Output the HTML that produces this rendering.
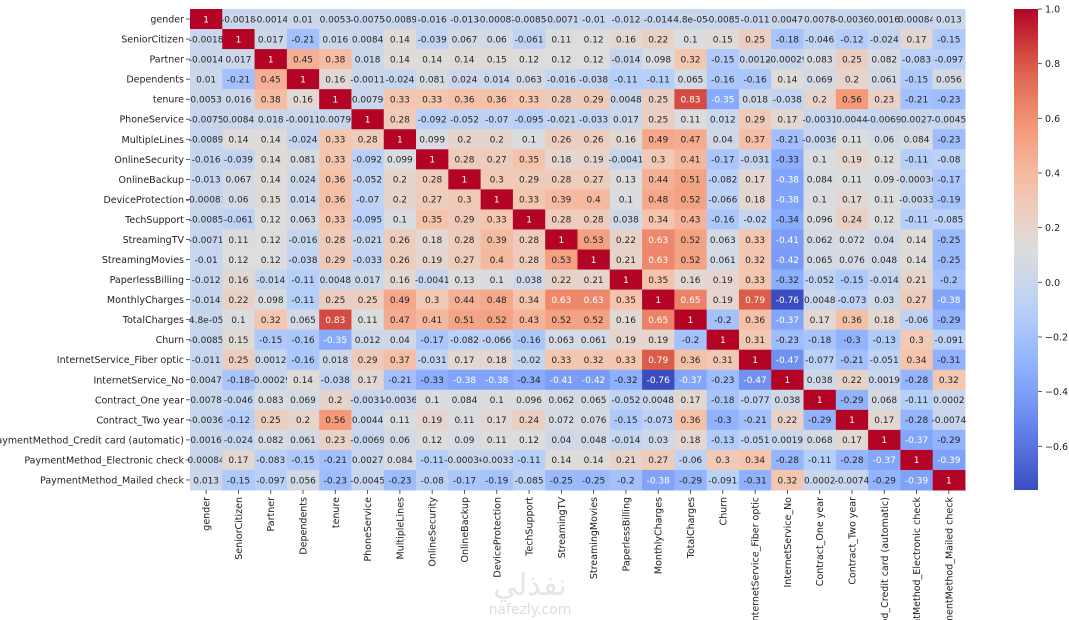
<!DOCTYPE html>
<html><head><meta charset="utf-8"><style>
body{margin:0;background:#fff;width:1069px;height:620px;overflow:hidden}
svg{display:block;font-family:"DejaVu Sans","Liberation Sans",sans-serif}
</style></head><body>
<svg id="c" width="1069" height="620" viewBox="0 0 1069 620" overflow="hidden">
<defs><clipPath id="frame"><rect x="0" y="0" width="1069" height="620"/></clipPath></defs>
<text x="530" y="595" text-anchor="middle" font-size="30" fill="#e6e6e6">نفذلي</text>
<text x="530" y="614" text-anchor="middle" font-size="14" fill="#dcdcdc">nafezly.com</text>
</svg>
<script>
const labels=["gender","SeniorCitizen","Partner","Dependents","tenure","PhoneService","MultipleLines","OnlineSecurity","OnlineBackup","DeviceProtection","TechSupport","StreamingTV","StreamingMovies","PaperlessBilling","MonthlyCharges","TotalCharges","Churn","InternetService_Fiber optic","InternetService_No","Contract_One year","Contract_Two year","PaymentMethod_Credit card (automatic)","PaymentMethod_Electronic check","PaymentMethod_Mailed check"];
const r0=[1,-0.0018,-0.0014,0.01,0.0053,-0.0075,-0.0089,-0.016,-0.013,-0.00081,-0.0085,-0.0071,-0.01,-0.012,-0.014,4.8e-05,-0.0085,-0.011,0.0047,0.0078,-0.0036,0.0016,0.00084,0.013];
const r1=[-0.0018,1,0.017,-0.21,0.016,0.0084,0.14,-0.039,0.067,0.06,-0.061,0.11,0.12,0.16,0.22,0.1,0.15,0.25,-0.18,-0.046,-0.12,-0.024,0.17,-0.15];
const r2=[-0.0014,0.017,1,0.45,0.38,0.018,0.14,0.14,0.14,0.15,0.12,0.12,0.12,-0.014,0.098,0.32,-0.15,0.0012,-0.00029,0.083,0.25,0.082,-0.083,-0.097];
const r3=[0.01,-0.21,0.45,1,0.16,-0.0011,-0.024,0.081,0.024,0.014,0.063,-0.016,-0.038,-0.11,-0.11,0.065,-0.16,-0.16,0.14,0.069,0.2,0.061,-0.15,0.056];
const r4=[0.0053,0.016,0.38,0.16,1,0.0079,0.33,0.33,0.36,0.36,0.33,0.28,0.29,0.0048,0.25,0.83,-0.35,0.018,-0.038,0.2,0.56,0.23,-0.21,-0.23];
const r5=[-0.0075,0.0084,0.018,-0.0011,0.0079,1,0.28,-0.092,-0.052,-0.07,-0.095,-0.021,-0.033,0.017,0.25,0.11,0.012,0.29,0.17,-0.0031,0.0044,-0.0069,0.0027,-0.0045];
const r6=[-0.0089,0.14,0.14,-0.024,0.33,0.28,1,0.099,0.2,0.2,0.1,0.26,0.26,0.16,0.49,0.47,0.04,0.37,-0.21,-0.0036,0.11,0.06,0.084,-0.23];
const r7=[-0.016,-0.039,0.14,0.081,0.33,-0.092,0.099,1,0.28,0.27,0.35,0.18,0.19,-0.0041,0.3,0.41,-0.17,-0.031,-0.33,0.1,0.19,0.12,-0.11,-0.08];
const r8=[-0.013,0.067,0.14,0.024,0.36,-0.052,0.2,0.28,1,0.3,0.29,0.28,0.27,0.13,0.44,0.51,-0.082,0.17,-0.38,0.084,0.11,0.09,-0.00036,-0.17];
const r9=[-0.00081,0.06,0.15,0.014,0.36,-0.07,0.2,0.27,0.3,1,0.33,0.39,0.4,0.1,0.48,0.52,-0.066,0.18,-0.38,0.1,0.17,0.11,-0.0033,-0.19];
const r10=[-0.0085,-0.061,0.12,0.063,0.33,-0.095,0.1,0.35,0.29,0.33,1,0.28,0.28,0.038,0.34,0.43,-0.16,-0.02,-0.34,0.096,0.24,0.12,-0.11,-0.085];
const r11=[-0.0071,0.11,0.12,-0.016,0.28,-0.021,0.26,0.18,0.28,0.39,0.28,1,0.53,0.22,0.63,0.52,0.063,0.33,-0.41,0.062,0.072,0.04,0.14,-0.25];
const r12=[-0.01,0.12,0.12,-0.038,0.29,-0.033,0.26,0.19,0.27,0.4,0.28,0.53,1,0.21,0.63,0.52,0.061,0.32,-0.42,0.065,0.076,0.048,0.14,-0.25];
const r13=[-0.012,0.16,-0.014,-0.11,0.0048,0.017,0.16,-0.0041,0.13,0.1,0.038,0.22,0.21,1,0.35,0.16,0.19,0.33,-0.32,-0.052,-0.15,-0.014,0.21,-0.2];
const r14=[-0.014,0.22,0.098,-0.11,0.25,0.25,0.49,0.3,0.44,0.48,0.34,0.63,0.63,0.35,1,0.65,0.19,0.79,-0.76,0.0048,-0.073,0.03,0.27,-0.38];
const r15=[4.8e-05,0.1,0.32,0.065,0.83,0.11,0.47,0.41,0.51,0.52,0.43,0.52,0.52,0.16,0.65,1,-0.2,0.36,-0.37,0.17,0.36,0.18,-0.06,-0.29];
const r16=[-0.0085,0.15,-0.15,-0.16,-0.35,0.012,0.04,-0.17,-0.082,-0.066,-0.16,0.063,0.061,0.19,0.19,-0.2,1,0.31,-0.23,-0.18,-0.3,-0.13,0.3,-0.091];
const r17=[-0.011,0.25,0.0012,-0.16,0.018,0.29,0.37,-0.031,0.17,0.18,-0.02,0.33,0.32,0.33,0.79,0.36,0.31,1,-0.47,-0.077,-0.21,-0.051,0.34,-0.31];
const r18=[0.0047,-0.18,-0.00029,0.14,-0.038,0.17,-0.21,-0.33,-0.38,-0.38,-0.34,-0.41,-0.42,-0.32,-0.76,-0.37,-0.23,-0.47,1,0.038,0.22,0.0019,-0.28,0.32];
const r19=[0.0078,-0.046,0.083,0.069,0.2,-0.0031,-0.0036,0.1,0.084,0.1,0.096,0.062,0.065,-0.052,0.0048,0.17,-0.18,-0.077,0.038,1,-0.29,0.068,-0.11,0.0002];
const r20=[-0.0036,-0.12,0.25,0.2,0.56,0.0044,0.11,0.19,0.11,0.17,0.24,0.072,0.076,-0.15,-0.073,0.36,-0.3,-0.21,0.22,-0.29,1,0.17,-0.28,-0.0074];
const r21=[0.0016,-0.024,0.082,0.061,0.23,-0.0069,0.06,0.12,0.09,0.11,0.12,0.04,0.048,-0.014,0.03,0.18,-0.13,-0.051,0.0019,0.068,0.17,1,-0.37,-0.29];
const r22=[0.00084,0.17,-0.083,-0.15,-0.21,0.0027,0.084,-0.11,-0.00036,-0.0033,-0.11,0.14,0.14,0.21,0.27,-0.06,0.3,0.34,-0.28,-0.11,-0.28,-0.37,1,-0.39];
const r23=[0.013,-0.15,-0.097,0.056,-0.23,-0.0045,-0.23,-0.08,-0.17,-0.19,-0.085,-0.25,-0.25,-0.2,-0.38,-0.29,-0.091,-0.31,0.32,0.0002,-0.0074,-0.29,-0.39,1];
const matrix=[r0,r1,r2,r3,r4,r5,r6,r7,r8,r9,r10,r11,r12,r13,r14,r15,r16,r17,r18,r19,r20,r21,r22,r23];
const cbTicks=[1.0,0.8,0.6,0.4,0.2,0.0,-0.2,-0.4,-0.6];
const vmin=-0.76, vmax=1;

const NS="http://www.w3.org/2000/svg";
const svg=document.getElementById('c');
const X0=190,X1=965,Y0=9,Y1=490;
const n=labels.length, cw=(X1-X0)/n, ch=(Y1-Y0)/n;
const xPos=i=>X0+i*cw, yPos=i=>Y0+i*ch;
const stops=[[59,76,192],[98,130,234],[141,176,254],[184,208,249],[221,221,221],[245,196,173],[244,154,123],[222,96,76],[180,4,38]];
function cmap(v){let t=Math.max(0,Math.min(1,(v-vmin)/(vmax-vmin)))*8;let i=Math.min(7,Math.floor(t)),f=t-i;
 const a=stops[i],b=stops[i+1];return `rgb(${a.map((c,k)=>Math.round(c+(b[k]-c)*f)).join(',')})`;}
function fmt(v){if(v!==0&&Math.abs(v)<1e-4){let s=v.toExponential(1);return s.replace(/e([+-])(\d)$/,'e$10$2');}
 let s=v.toPrecision(2);if(s.indexOf('.')>=0)s=s.replace(/0+$/,'').replace(/\.$/,'');return s;}
function el(t,a,p){const e=document.createElementNS(NS,t);for(const k in a)e.setAttribute(k,a[k]);(p||svg).appendChild(e);return e;}

const g=el('g',{});
matrix.forEach((row,i)=>row.forEach((v,j)=>{
 const r=el('rect',{x:xPos(j),y:yPos(i),width:cw+0.5,height:ch+0.5,fill:cmap(v)},g);
 
 
 const t=el('text',{x:xPos(j)+cw/2,y:yPos(i)+ch/2+3.3,'text-anchor':'middle','font-size':'9',fill:(v>=0.6||v<=-0.35)?'#fff':'#262626'},g);
 t.textContent=fmt(v);
 
 
}));
const xg=el('g',{'clip-path':'url(#frame)'});
labels.forEach((l,i)=>{
 const y=yPos(i)+ch/2;
 el('line',{x1:X0-4,x2:X0,y1:y,y2:y,stroke:'#333','stroke-width':0.8});
 const t=el('text',{x:X0-6,y:y+3.5,'text-anchor':'end','font-size':'9.5',fill:'#222'});
 t.textContent=l;
 
 
 const x=xPos(i)+cw/2;
 el('line',{x1:x,x2:x,y1:Y1,y2:Y1+4,stroke:'#333','stroke-width':0.8});
 const tx=el('text',{x:0,y:0,'text-anchor':'end','font-size':'9.5',fill:'#222',transform:`translate(${x+3.5},${Y1+7}) rotate(-90)`},xg);
 tx.textContent=l;
 
 
});
// colorbar
const CB0=1014,CB1=1038;
const cbY=v=>Y0+(vmax-v)/(vmax-vmin)*(Y1-Y0);
const defs=el('defs',{});
const lg=el('linearGradient',{id:'cbg',x1:0,y1:0,x2:0,y2:1},defs);
for(let k=0;k<=20;k++){const v=vmax-(vmax-vmin)*k/20;el('stop',{offset:k/20,'stop-color':cmap(v)},lg);}
const cb=el('rect',{x:CB0,y:Y0,width:CB1-CB0,height:Y1-Y0,fill:'url(#cbg)'});


cbTicks.forEach(v=>{const y=cbY(v);
 el('line',{x1:CB1,x2:CB1+4,y1:y,y2:y,stroke:'#333','stroke-width':0.8});
 const t=el('text',{x:CB1+7,y:y+3.5,'font-size':'9.5',fill:'#222'});
 t.textContent=(v<0?'\u2212':'')+Math.abs(v).toFixed(1);
 
 
});
</script>
</body></html>
